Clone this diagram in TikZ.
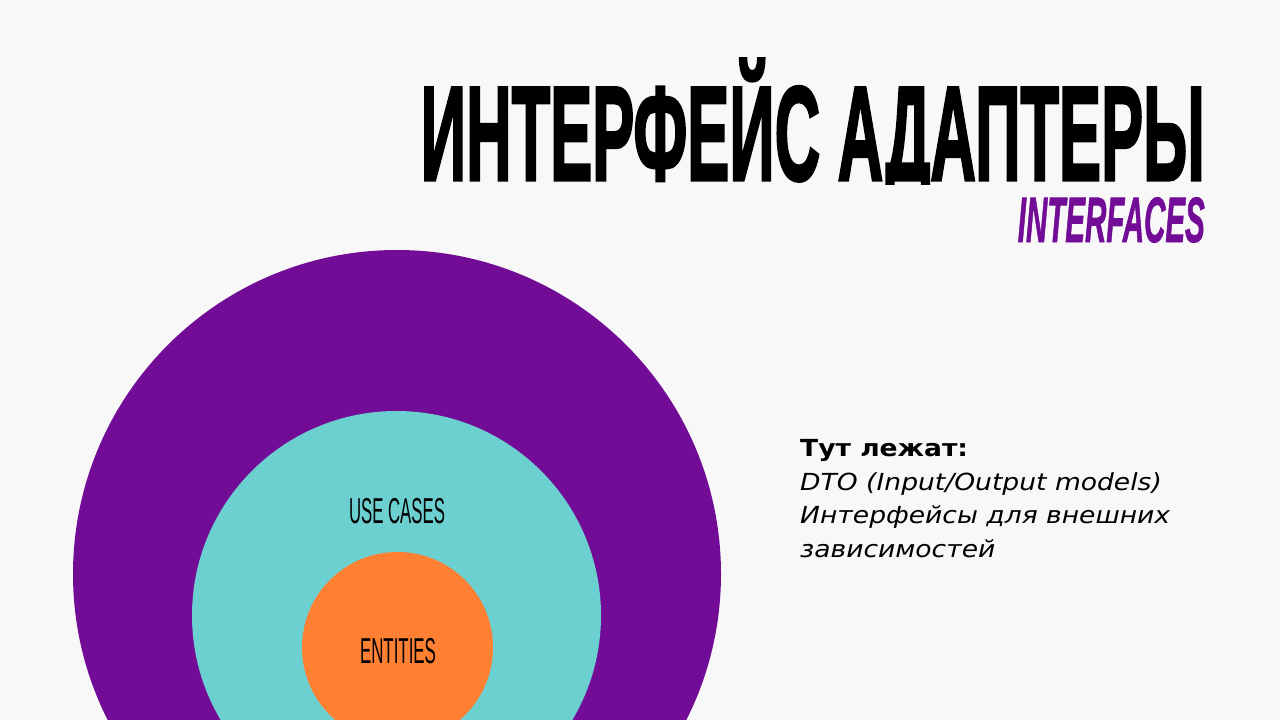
\documentclass[tikz,border=0pt]{standalone}
\usepackage{graphicx}
\usepackage{fontspec}
\setmainfont{DejaVu Sans}
\newfontfamily\condbold[FakeBold=2.5]{Liberation Sans Bold}
\newfontfamily\condboldit[FakeBold=1.5]{Liberation Sans Bold Italic}
\newfontfamily\condreg{Liberation Sans}
\definecolor{bgc}{HTML}{F8F8F8}
\definecolor{purp}{HTML}{720C96}
\definecolor{cyanc}{HTML}{6DD0D0}
\definecolor{orng}{HTML}{FF7F33}
\tikzset{
  ring/.style={circle, inner sep=0pt, minimum size=#1},
  lbl/.style={inner sep=0pt, text=black},
}
\begin{document}
\begin{tikzpicture}[x=1pt,y=-1pt]
\fill[bgc] (0,0) rectangle (1280,720);
\useasboundingbox (0,0) rectangle (1280,720);
\begin{scope}
\clip (0,0) rectangle (1280,720);
\node[ring=648pt, fill=purp] (outer) at (397,574) {};
\node[ring=409pt, fill=cyanc] (mid) at (396.5,615.5) {};
\node[ring=191pt, fill=orng] (inner) at (397.5,647.5) {};
\end{scope}
\node[lbl, anchor=base] (uc) at (397,523) {\resizebox{96pt}{\height}{\condreg\fontsize{36}{36}\selectfont USE CASES}};
\node[lbl, anchor=base] (ent) at (398,663) {\resizebox{76pt}{\height}{\condreg\fontsize{36}{36}\selectfont ENTITIES}};
\begin{scope}
\clip (380,40) rectangle (1240,184);
\node[lbl, anchor=base east] (title) at (1205,180) {\raisebox{0pt}[\height][0pt]{\resizebox{784pt}{\height}{\condbold\fontsize{134}{134}\selectfont ИНТЕРФЕЙС АДАПТЕРЫ}}};
\end{scope}
\node[lbl, anchor=base east, text=purp] (sub) at (1205,242) {\resizebox{187pt}{\height}{\condboldit\fontsize{64}{64}\selectfont INTERFACES}};
\node[lbl, anchor=north west, align=left, font=\fontsize{23.5}{33.8}\selectfont, xscale=1.13, transform shape] (info) at (800,439)
  {\textbf{Тут лежат:}\\ \textit{DTO (Input/Output models)}\\ \textit{Интерфейсы для внешних}\\ \textit{зависимостей}};
\end{tikzpicture}
\end{document}
